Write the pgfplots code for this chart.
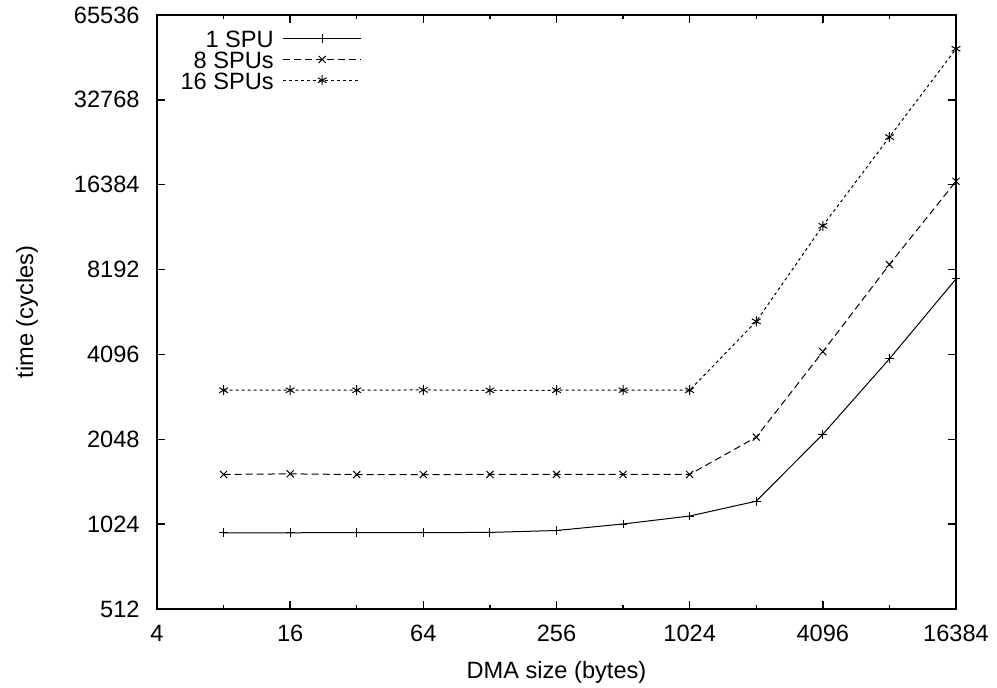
\documentclass[border=0pt]{standalone}
\usepackage{fontspec}
\setmainfont{Liberation Sans}
\usepackage{pgfplots}
\pgfplotsset{compat=1.18}

\begin{document}
\fontsize{11.8}{14}\selectfont
\begin{tikzpicture}
\begin{axis}[
    at={(0,0)}, anchor=south west,
    scale only axis,
    width=399.5pt, height=297pt,
    xmode=log, ymode=log,
    log basis x=2, log basis y=2,
    xmin=4, xmax=16384, ymin=512, ymax=65536,
    xtick={4,16,64,256,1024,4096,16384},
    xticklabels={4,16,64,256,1024,4096,16384},
    extra x ticks={8,32,128,512,2048,8192},
    extra x tick labels={},
    extra x tick style={major tick length=2pt},
    ytick={512,1024,2048,4096,8192,16384,32768,65536},
    yticklabels={512,1024,2048,4096,8192,16384,32768,65536},
    tick align=inside, major tick length=4pt,
    axis line style={line width=1pt},
    every tick/.style={line width=0.7pt, black},
    xticklabel style={anchor=north, inner sep=0pt, yshift=-8pt},
    yticklabel style={anchor=east, inner sep=0pt, xshift=-8.5pt},
    xlabel={DMA size (bytes)},
    ylabel={time (cycles)},
    xlabel style={at={(axis description cs:0.5,-0.1178)}, anchor=base},
    ylabel style={at={(axis description cs:-0.155,0.5)}, anchor=base},
    legend plot pos=right,
    legend cell align=right,
    legend style={draw=none, fill=none, at={(axis description cs:0.029,0.975)},
        anchor=north west, inner sep=0pt, row sep=0pt,
        nodes={inner sep=0pt, text height=8.6pt, text depth=1.8pt},
        /tikz/every odd column/.append style={column sep=4.5pt}},
    legend image code/.code={\draw[mark repeat=2, mark phase=2, #1] plot coordinates {(0pt,1pt) (19.5pt,1pt) (39pt,1pt)};},
    every axis plot/.append style={black, line width=0.5pt, mark size=2.5pt, mark options={solid}},
]
\addplot[solid, mark=+, mark size=2.2pt] coordinates {
(8,954) (16,954) (32,956) (64,955) (128,957) (256,972) (512,1025) (1024,1094)
(2048,1235) (4096,2134) (8192,3950) (16384,7590)};
\addlegendentry{1 SPU}
\addplot[dash pattern=on 3.5pt off 2pt, mark=x] coordinates {
(8,1537) (16,1544) (32,1535) (64,1535) (128,1537) (256,1537) (512,1537) (1024,1537)
(2048,2084) (4096,4190) (8192,8540) (16384,16850)};
\addlegendentry{8 SPUs}
\addplot[dash pattern=on 1.5pt off 1.5pt, mark=asterisk] coordinates {
(8,3057) (16,3057) (32,3057) (64,3065) (128,3052) (256,3057) (512,3057) (1024,3057)
(2048,5365) (4096,11713) (8192,24180) (16384,49700)};
\addlegendentry{16 SPUs}
\end{axis}
\pgfresetboundingbox
\path (-78.5pt,-39.5pt) rectangle (420pt,304.5pt);
\end{tikzpicture}
\end{document}
